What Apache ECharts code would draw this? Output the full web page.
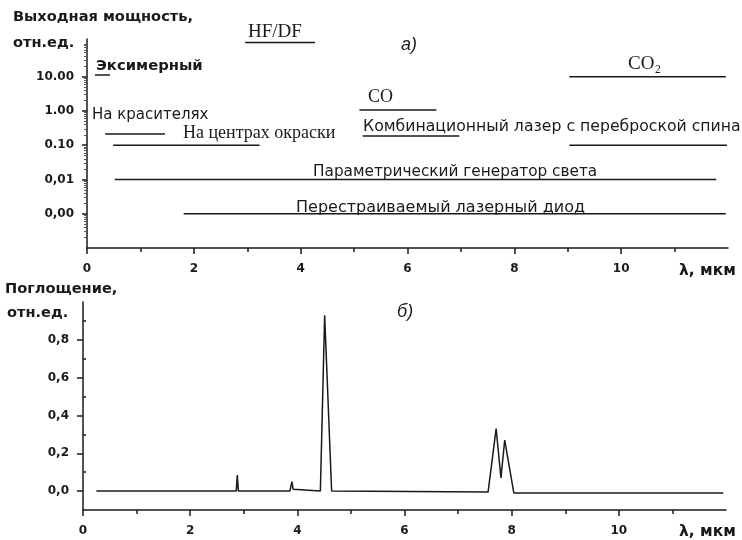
<!DOCTYPE html>
<html>
<head>
<meta charset="utf-8">
<script src="https://cdn.jsdelivr.net/npm/echarts@6/dist/echarts.min.js"></script>
<style>
html, body { margin: 0; padding: 0; background: #fff; }
#chart { width: 742px; height: 540px; }
</style>
</head>
<body>
<div id="chart"></div>
<script>
// а) диапазоны перестройки лазеров: x — длина волны, мкм; y — номер декады мощности
const powerTicks = [0, 1, 2, 3, 4];
const powerLabels = ['0,00', '0,01', '0.10', '1.00', '10.00'];
const decadeSteps = [0.301, 0.477, 0.602, 0.699, 0.778, 0.845, 0.903, 0.954];
const lambdaTicks = [0, 2, 4, 6, 8, 10];
const lambdaMinor = [1, 3, 5, 7, 9, 11];

const excimer = [[0.15, 4.05], [0.43, 4.05]];
const hfdf = [[2.96, 5.0], [4.27, 5.0]];
const co2 = [[9.03, 4.0], [11.96, 4.0]];
const co = [[5.1, 3.03], [6.54, 3.03]];
const dye = [[0.34, 2.33], [1.46, 2.33]];
const colorCentres = [[0.49, 2.0], [3.23, 2.0]];
const ramanA = [[5.16, 2.27], [6.97, 2.27]];
const ramanB = [[9.03, 2.0], [11.98, 2.0]];
const opo = [[0.52, 1.0], [11.78, 1.0]];
const diode = [[1.81, 0.0], [11.96, 0.0]];

// б) спектр поглощения
const absTicks = [0, 0.2, 0.4, 0.6, 0.8];
const absMinor = [0.1, 0.3, 0.5, 0.7, 0.9];
const absX = [0.25, 2.86, 2.88, 2.9, 3.86, 3.9, 3.92, 3.95, 4.43, 4.51, 4.64, 7.56, 7.71, 7.8, 7.87, 8.04, 11.95];
const absY = [0.0, 0.0, 0.085, 0.0, 0.0, 0.05, 0.01, 0.0, 0.0, 0.93, 0.0, -0.005, 0.33, 0.07, 0.27, -0.01, -0.01];

const minorTicks = [];
for (let d = -1; d < 5; d++) {
    decadeSteps.forEach(s => minorTicks.push(+(d + s).toFixed(3)));
}

const ink = '#1a1a1a';
const tickFont = { color: ink, fontFamily: 'DejaVu Sans', fontWeight: 'bold', fontSize: 12 };

function xAxisOf(grid, values, len, labels) {
    return {
        type: 'value', gridIndex: grid, position: 'bottom', min: 0, max: 12, interval: 1,
        axisLine: { show: labels, onZero: false, lineStyle: { color: ink, width: 1.5 } },
        axisTick: { show: true, customValues: values, length: len, lineStyle: { color: ink, width: 1.5 } },
        axisLabel: labels ? Object.assign({ customValues: values, margin: 15 }, tickFont) : { show: false },
        splitLine: { show: false }
    };
}

function lineSeries(data) {
    return {
        type: 'line', xAxisIndex: 0, yAxisIndex: 0, data: data,
        symbol: 'none', silent: true,
        lineStyle: { color: ink, width: 1.5 }
    };
}

function text(str, x, y, font) {
    return {
        type: 'text', x: x, y: y,
        style: { text: str, font: font, fill: ink, align: 'left', verticalAlign: 'middle' }
    };
}

const sansB = 'bold 14.6px "DejaVu Sans"';

const chart = echarts.init(document.getElementById('chart'));
chart.setOption({
    animation: false,
    backgroundColor: '#fff',
    grid: [
        { left: 87, right: 14, top: 39, height: 209 },
        { left: 83, right: 16, top: 302, height: 208 }
    ],
    xAxis: [
        xAxisOf(0, lambdaTicks, 6, true),
        xAxisOf(0, lambdaMinor, 4, false),
        xAxisOf(1, lambdaTicks, 6, true),
        xAxisOf(1, lambdaMinor, 4, false)
    ],
    yAxis: [
        {
            type: 'value', gridIndex: 0, min: -1, max: 5.1, interval: 1,
            axisLine: { show: true, lineStyle: { color: ink, width: 1.5 } },
            axisTick: { customValues: powerTicks, length: 5, lineStyle: { color: ink, width: 1.5 } },
            axisLabel: Object.assign({
                customValues: powerTicks, margin: 13,
                formatter: v => powerLabels[powerTicks.indexOf(v)]
            }, tickFont),
            splitLine: { show: false }
        },
        {
            type: 'value', gridIndex: 0, min: -1, max: 5.1, interval: 1,
            axisLine: { show: false },
            axisTick: { customValues: minorTicks, inside: true, length: 3, lineStyle: { color: '#555', width: 1 } },
            axisLabel: { show: false },
            splitLine: { show: false }
        },
        {
            type: 'value', gridIndex: 1, min: -0.1, max: 1.0, interval: 0.1,
            axisLine: { show: true, lineStyle: { color: ink, width: 1.5 } },
            axisTick: { customValues: absTicks, length: 6, lineStyle: { color: ink, width: 1.5 } },
            axisLabel: Object.assign({
                customValues: absTicks, margin: 14,
                formatter: v => v.toFixed(1).replace('.', ',')
            }, tickFont),
            splitLine: { show: false }
        },
        {
            type: 'value', gridIndex: 1, min: -0.1, max: 1.0, interval: 0.1,
            axisLine: { show: false },
            axisTick: { customValues: absMinor, length: 3, lineStyle: { color: ink, width: 1.5 } },
            axisLabel: { show: false },
            splitLine: { show: false }
        }
    ],
    series: [
        lineSeries(excimer), lineSeries(hfdf), lineSeries(co2), lineSeries(co),
        lineSeries(dye), lineSeries(colorCentres), lineSeries(ramanA), lineSeries(ramanB),
        lineSeries(opo), lineSeries(diode),
        {
            type: 'line', xAxisIndex: 2, yAxisIndex: 2,
            data: absX.map((x, i) => [x, absY[i]]),
            symbol: 'none', silent: true,
            lineStyle: { color: ink, width: 1.5 }
        }
    ],
    graphic: [
        text('Выходная мощность,', 13, 17, sansB),
        text('отн.ед.', 13, 43, sansB),
        text('HF/DF', 248, 32, '19px "Liberation Serif"'),
        text('а)', 401, 45, 'italic 18px "Liberation Sans"'),
        text('Эксимерный', 96, 66, 'bold 14.8px "DejaVu Sans"'),
        text('CO₂', 628, 64, '19px "Liberation Serif"'),
        text('CO', 368, 97, '18px "Liberation Serif"'),
        text('На красителях', 92, 115, '15px "DejaVu Sans"'),
        text('На центрах окраски', 183, 133, '18px "Liberation Serif"'),
        text('Комбинационный лазер с переброской спина', 363, 127, '15.7px "DejaVu Sans"'),
        text('Параметрический генератор света', 313, 172, '15.3px "DejaVu Sans"'),
        text('Перестраиваемый лазерный диод', 296, 208, '16px "DejaVu Sans"'),
        text('λ, мкм', 679, 271, 'bold 15.5px "DejaVu Sans"'),
        text('Поглощение,', 5, 289, sansB),
        text('отн.ед.', 7, 313, sansB),
        text('б)', 397, 312, 'italic 18px "Liberation Sans"'),
        text('λ, мкм', 679, 532, 'bold 15.5px "DejaVu Sans"')
    ]
});
</script>
</body>
</html>
